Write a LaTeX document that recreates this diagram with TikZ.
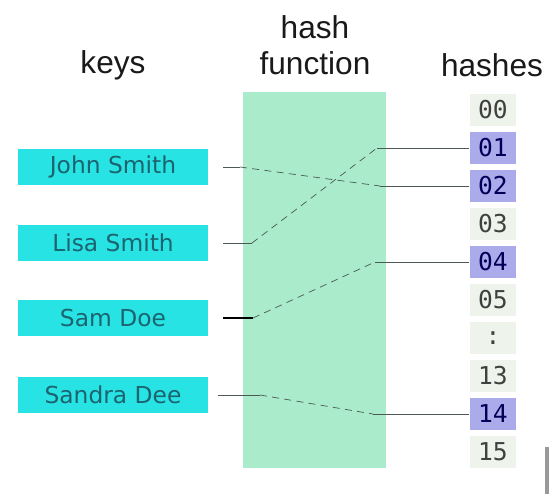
\documentclass[tikz,border=0pt]{standalone}
\usepackage{fontspec}
\setmainfont{DejaVu Sans}
\newfontfamily\headfont{Liberation Sans}
\newfontfamily\cellfont{DejaVu Sans Mono}
\usepackage{xcolor}
\usepackage{tikz}
\usetikzlibrary{positioning,calc}
\definecolor{keyfill}{HTML}{28E3E3}
\definecolor{keytext}{HTML}{1B6470}
\definecolor{mint}{HTML}{A9EBCB}
\definecolor{lavender}{HTML}{ABABEB}
\definecolor{pale}{HTML}{EEF4EC}
\definecolor{wire}{HTML}{4A5A52}
\tikzset{
    keybox/.style={rectangle, fill=keyfill, minimum width=3.8cm, minimum height=0.72cm, font=\fontsize{13.3}{15}\selectfont, text=keytext},
    cell/.style={rectangle, fill=pale, minimum width=0.94cm, minimum height=0.64cm, inner sep=0pt, font=\cellfont\fontsize{14}{16}\selectfont, text=black!75},
    hotcell/.style={cell, fill=lavender, text=blue!35!black},
    header/.style={font=\headfont\fontsize{18}{21}\selectfont, text=black!90, inner sep=0pt},
    link/.style={thin, color=wire},
    hop/.style={link, dashed, dash pattern=on 4pt off 3pt}
}

\begin{document}
\begin{tikzpicture}[x=0.02cm, y=-0.02cm]
\useasboundingbox (0,0) rectangle (549,494);

% Column titles
\node[header] (keystitle) at (113,65) {keys};
\node[header] (hashtitle) at (315,27) {hash};
\node[header] (fntitle) at (315,63) {function};
\node[header] (hashestitle) at (492,65) {hashes};

% Hash function band
\fill[mint] (243,92) rectangle (386,468);

% Keys
\node[keybox] (john) at (113,167) {John Smith};
\node[keybox] (lisa) at (113,243) {Lisa Smith};
\node[keybox] (sam) at (113,318) {Sam Doe};
\node[keybox] (sandra) at (113,395) {Sandra Dee};

% Hash table
\foreach \lab/\row/\kind in {00/0/cell, 01/1/hotcell, 02/2/hotcell, 03/3/cell, 04/4/hotcell, 05/5/cell, :/6/cell, 13/7/cell, 14/8/hotcell, 15/9/cell}
    \node[\kind] (h\row) at (493,{110+38*\row}) {\lab};

% Bend points inside the band
\coordinate (j1) at (240,167);
\coordinate (j2) at (380,186);
\coordinate (l1) at (252,243);
\coordinate (l2) at (377,148);
\coordinate (s1) at (253,318);
\coordinate (s2) at (375,262);
\coordinate (d1) at (260,395);
\coordinate (d2) at (373,414);

% Mappings
\draw[link, shorten <=0.3cm] (john.east) -- (j1);
\draw[hop] (j1) -- (j2);
\draw[link] (j2) -- (h2.west);

\draw[link, shorten <=0.3cm] (lisa.east) -- (l1);
\draw[hop] (l1) -- (l2);
\draw[link] (l2) -- (h1.west);

\draw[link, semithick, color=black, shorten <=0.3cm] (sam.east) -- (s1);
\draw[hop] (s1) -- (s2);
\draw[link] (s2) -- (h4.west);

\draw[link, shorten <=0.2cm] (sandra.east) -- (d1);
\draw[hop] (d1) -- (d2);
\draw[link] (d2) -- (h8.west);

% scan edge
\fill[black!40] (545,447) rectangle (549,494);

\end{tikzpicture}
\end{document}
